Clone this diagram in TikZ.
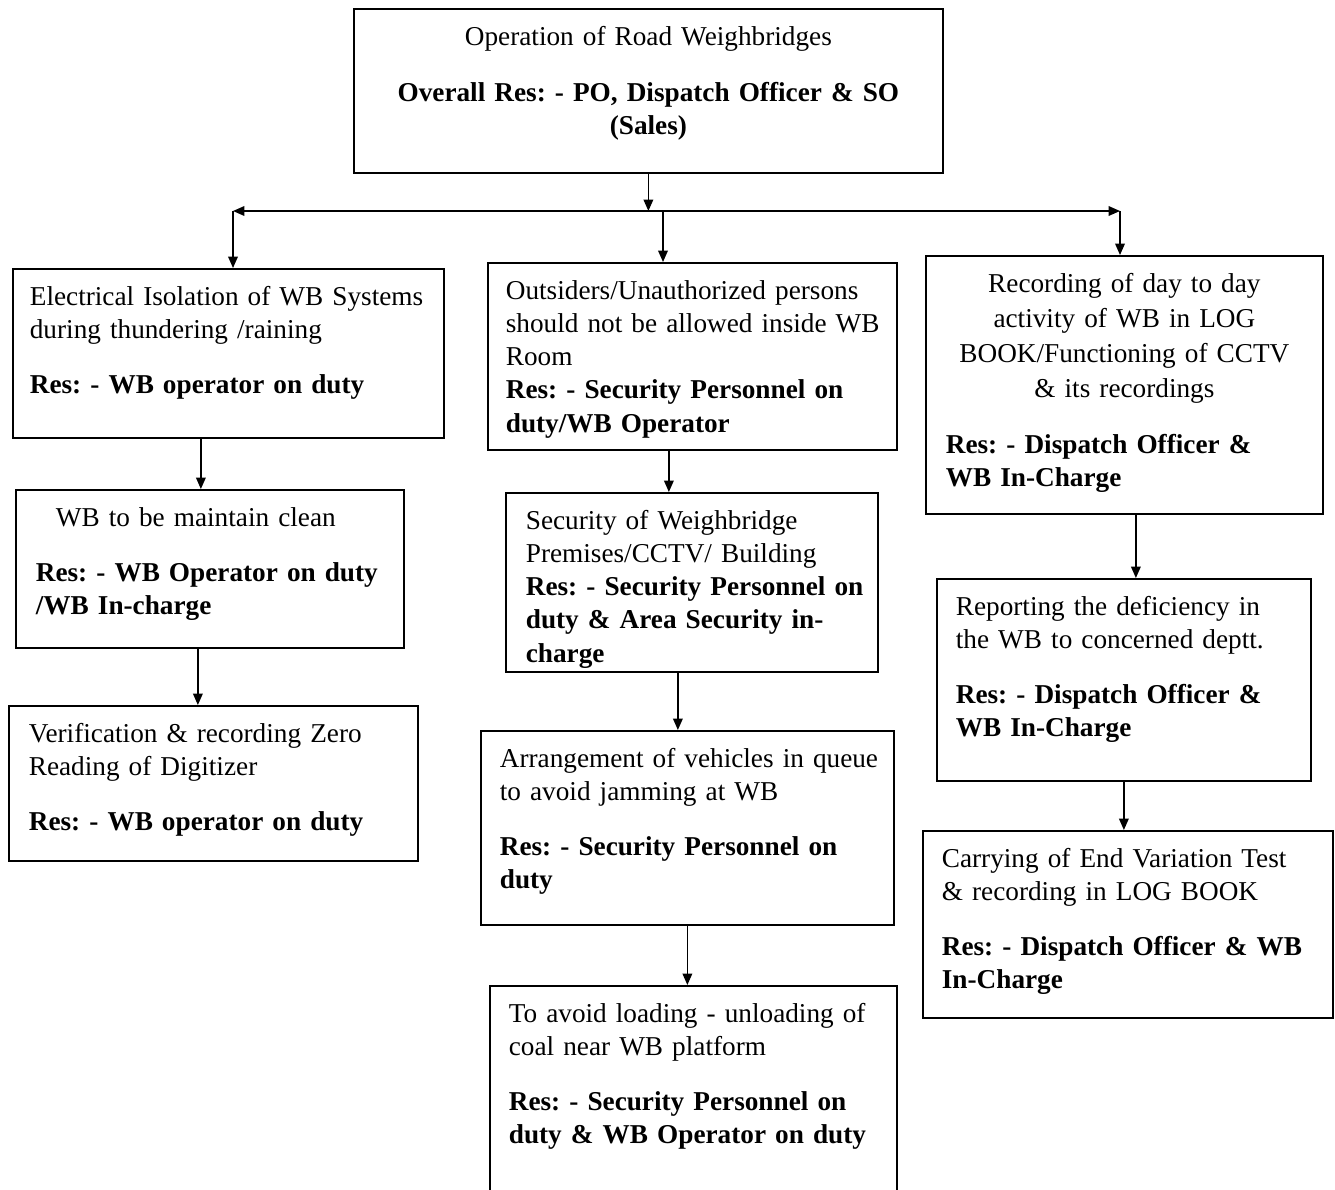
\documentclass[tikz,border=0pt]{standalone}
\usepackage{fontspec}
\setmainfont{Liberation Serif}
\usetikzlibrary{arrows.meta}

\begin{document}
\begin{tikzpicture}[
    wbbox/.style={draw, line width=1pt, anchor=north west, inner ysep=0.3cm, text height=0.44cm, font=\fontsize{15.5}{18.8}\selectfont,
        execute at begin node={\frenchspacing\rightskip=0pt plus 1fil minus 3cm\relax}},
    flow/.style={-{Triangle[length=6.5pt,width=5.5pt]}, line width=0.8pt},
    bus/.style={{Triangle[length=6.5pt,width=5.5pt]}-{Triangle[length=6.5pt,width=5.5pt]}, line width=0.8pt}
]
\useasboundingbox (0,0) rectangle (26.7,-23.78);
\clip (0,0) rectangle (26.7,-23.78);

% Head
\node[wbbox, text width=11.18cm, text depth=2.24cm, inner xsep=0.3cm] (ops) at (7.06,-0.16)
    {\centering Operation of Road Weighbridges\\[13pt] \textbf{Overall Res: - PO, Dispatch Officer \& SO\\ (Sales)}\par};

% Left column
\node[wbbox, text width=7.94cm, text depth=2.34cm, inner xsep=0.34cm] (isol) at (0.24,-5.36)
    {Electrical Isolation of WB Systems\\ during thundering /raining\\[12.5pt] \textbf{Res: - WB operator on duty}};
\node[wbbox, text width=6.96cm, text depth=2.12cm, inner xsep=0.4cm] (clean) at (0.30,-9.78)
    {\hspace*{0.4cm}WB to be maintain clean\\[12.5pt] \textbf{Res: - WB Operator on duty\\ /WB In-charge}};
\node[wbbox, text width=7.38cm, text depth=2.06cm, inner xsep=0.4cm] (zero) at (0.16,-14.10)
    {Verification \& recording Zero\\ Reading of Digitizer\\[12.5pt] \textbf{Res: - WB operator on duty}};

% Middle column
\node[wbbox, text width=7.46cm, text depth=2.70cm, inner xsep=0.36cm] (outsider) at (9.74,-5.24)
    {Outsiders/Unauthorized persons\\ should not be allowed inside WB\\ Room\\ \textbf{Res: - Security Personnel on\\ duty/WB Operator}};
\node[wbbox, text width=6.64cm, text depth=2.54cm, inner xsep=0.4cm] (security) at (10.10,-9.84)
    {Security of Weighbridge\\ Premises/CCTV/ Building\\ \textbf{Res: - Security Personnel on\\ duty \& Area Security in-\\ charge}};
\node[wbbox, text width=7.50cm, text depth=2.84cm, inner xsep=0.38cm] (queue) at (9.60,-14.60)
    {Arrangement of vehicles in queue\\ to avoid jamming at WB\\[12.5pt] \textbf{Res: - Security Personnel on\\ duty}};
\node[wbbox, text width=7.38cm, text depth=3.56cm, inner xsep=0.38cm] (coal) at (9.78,-19.70)
    {To avoid loading - unloading of\\ coal near WB platform\\[12.5pt] \textbf{Res: - Security Personnel on\\ duty \& WB Operator on duty}};

% Right column
\node[wbbox, text width=7.14cm, text depth=4.12cm, inner xsep=0.4cm] (logbook) at (18.50,-5.10)
    {\fontsize{15.5}{19.8}\selectfont{\centering Recording of day to day\\ activity of WB in LOG\\ BOOK/Functioning of CCTV\\ \& its recordings\par}\vspace{12pt}
     \textbf{Res: - Dispatch Officer \&\\ WB In-Charge}};
\node[wbbox, text width=6.72cm, text depth=3.00cm, inner xsep=0.38cm] (report) at (18.72,-11.56)
    {Reporting the deficiency in\\ the WB to concerned deptt.\\[12.5pt] \textbf{Res: - Dispatch Officer \&\\ WB In-Charge}};
\node[wbbox, text width=7.44cm, text depth=2.70cm, inner xsep=0.38cm] (endtest) at (18.44,-16.60)
    {Carrying of End Variation Test\\ \& recording in LOG BOOK\\[12.5pt] \textbf{Res: - Dispatch Officer \& WB\\ In-Charge}};

% Distribution line
\coordinate (busl) at (4.66,-4.22);
\coordinate (busc) at (13.26,-4.22);
\coordinate (busr) at (22.40,-4.22);
\draw[bus] (busl) -- (busr);
\draw[flow] (ops.south) -- (ops.south |- busl);
\draw[flow] (busl) -- (busl |- isol.north);
\draw[flow] (busc) -- (busc |- outsider.north);
\draw[flow] (busr) -- (busr |- logbook.north);

% Column flows
\draw[flow] ([xshift=-0.55cm]isol.south) -- ([xshift=-0.55cm]isol.south |- clean.north);
\draw[flow] ([xshift=-0.24cm]clean.south) -- ([xshift=-0.24cm]clean.south |- zero.north);
\draw[flow] ([xshift=-0.47cm]outsider.south) -- ([xshift=-0.47cm]outsider.south |- security.north);
\draw[flow] ([xshift=-0.28cm]security.south) -- ([xshift=-0.28cm]security.south |- queue.north);
\draw[flow] (queue.south) -- (queue.south |- coal.north);
\draw[flow] ([xshift=0.23cm]logbook.south) -- ([xshift=0.23cm]logbook.south |- report.north);
\draw[flow] (report.south) -- (report.south |- endtest.north);

\end{tikzpicture}
\end{document}
